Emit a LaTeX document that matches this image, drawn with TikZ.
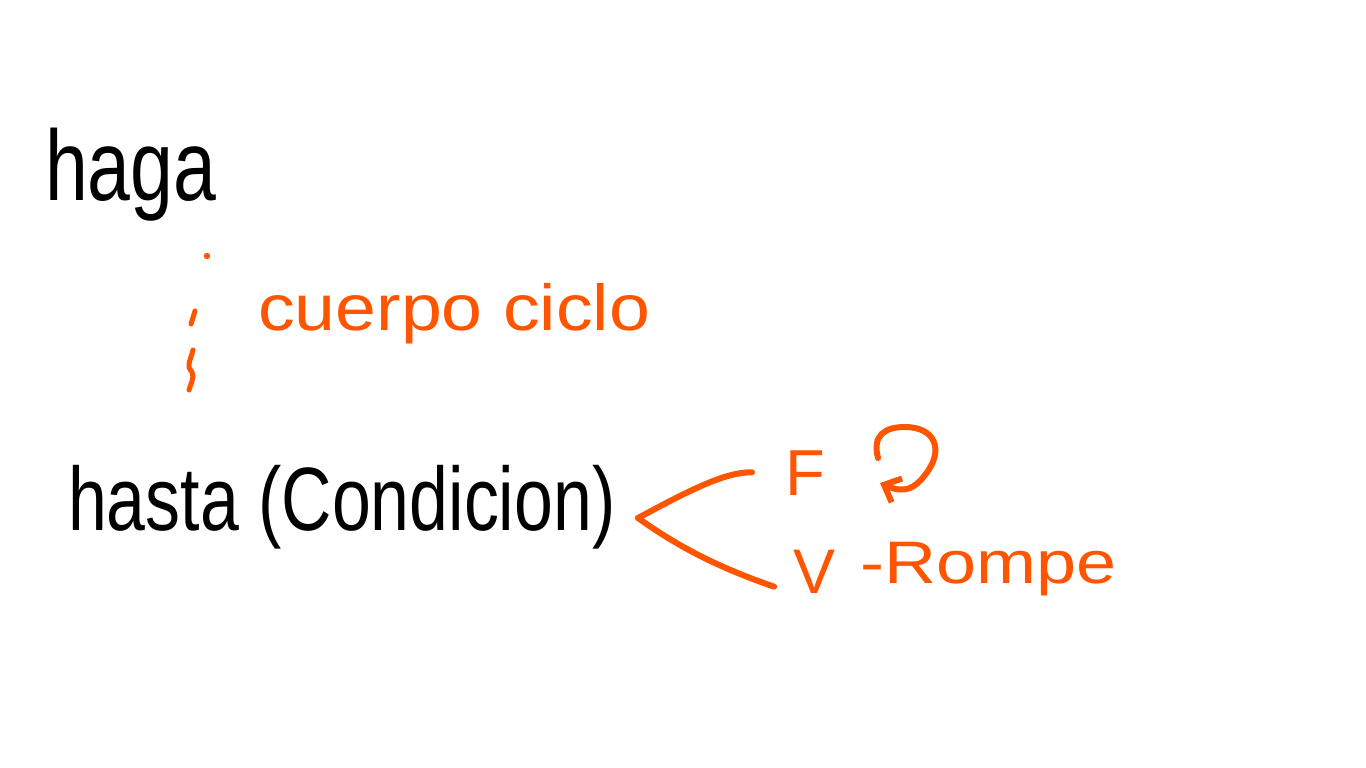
\documentclass[tikz,border=0pt]{standalone}
\usepackage{fontspec}
\setmainfont{Liberation Sans}
\usetikzlibrary{arrows.meta}
\definecolor{hl}{RGB}{255,85,0}
\begin{document}
\begin{tikzpicture}[x=1pt,y=-1pt,
  hand/.style={inner sep=0pt, anchor=base west},
  stroke/.style={hl, line width=6pt, line cap=round, line join=round}]
\useasboundingbox[fill=white] (0,0) rectangle (1366,768);
% black text
\node[hand, font=\fontsize{100}{100}\selectfont, xscale=0.77] (haga) at (45,200) {haga};
\node[hand, font=\fontsize{90}{90}\selectfont, xscale=0.776] (hasta) at (68,530) {hasta (Condicion)};
% orange text
\node[hand, hl, font=\fontsize{65}{65}\selectfont, xscale=1.13] (cuerpo) at (258,330) {cuerpo ciclo};
\node[hand, hl, font=\fontsize{65}{65}\selectfont] (F) at (785,495) {F};
\node[hand, hl, font=\fontsize{63}{63}\selectfont] (V) at (793,593) {V};
\node[hand, hl, font=\fontsize{60}{60}\selectfont, xscale=1.2] (rompe) at (860,583) {-Rompe};
% vertical dots before the body
\fill[hl] (207,256) circle (3.2);
\draw[stroke, line width=5pt] (195,311) -- (191,324);
\draw[stroke, line width=5pt] (193,350) .. controls (190,362) and (186,366) .. (192,372) .. controls (195,378) and (190,385) .. (189,390);
% branches
\coordinate (fork) at (638,518);
\draw[stroke, shorten >=33pt] (fork) .. controls (690,490) and (725,472) .. (F.west);
\draw[stroke, shorten >=20pt] (fork) .. controls (680,548) and (720,568) .. (V.south west);
% loop arrow next to F
\draw[stroke, -{Straight Barb[length=14pt,width=26pt]}] (878,458) .. controls (872,435) and (885,427) .. (905,427) .. controls (935,427) and (945,450) .. (925,475) .. controls (915,488) and (905,494) .. (880,483);
\end{tikzpicture}
\end{document}
